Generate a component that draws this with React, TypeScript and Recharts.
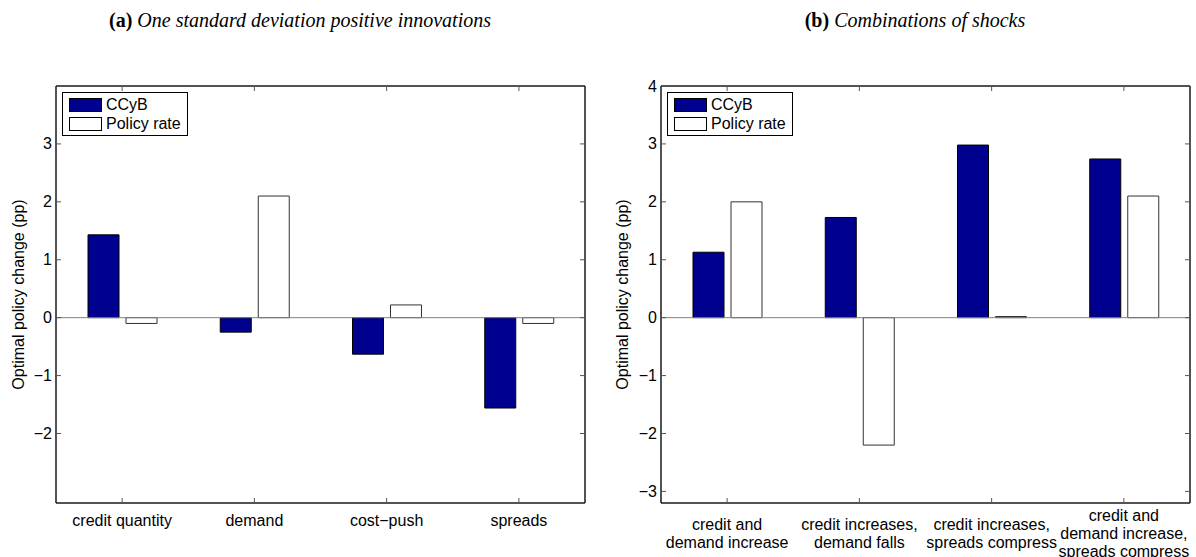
import { BarChart, Bar, XAxis, YAxis, ReferenceLine } from "recharts";

// ── data ──────────────────────────────────────────────────────────────────────
const categoriesA = ["credit quantity", "demand", "cost\u2212push", "spreads"];
const ccybA = [1.43, -0.25, -0.63, -1.56];
const policyA = [-0.1, 2.1, 0.22, -0.1];
const ticksA = [-2, -1, 0, 1, 2, 3];

const categoriesB = [
  "credit and\ndemand increase",
  "credit increases,\ndemand falls",
  "credit increases,\nspreads compress",
  "credit and\ndemand increase,\nspreads compress",
];
const ccybB = [1.13, 1.73, 2.98, 2.74];
const policyB = [2.0, -2.2, 0.02, 2.1];
const ticksB = [-3, -2, -1, 0, 1, 2, 3, 4];

const yDomain: [number, number] = [-3.2, 4];
const seriesNames = ["CCyB", "Policy rate"];

// ── styles ────────────────────────────────────────────────────────────────────
const SANS = "'Liberation Sans', Arial, Helvetica, sans-serif";
const SERIF = "'Liberation Serif', 'Times New Roman', serif";
const CCYB_COLOR = "#00008f";
const AXIS = "#1a1a1a";
const TICK = "#555";
const TICK_LEN = 5;

const fmt = (v: number) => (v < 0 ? `\u2212${Math.abs(v)}` : String(v));

// ── custom ticks (MATLAB style: inward tick marks) ───────────────────────────
function BottomTick(props: any) {
  const { x, y, payload, mid } = props;
  const lines = String(payload.value).split("\n");
  const lh = 17.7;
  const first = y + mid - ((lines.length - 1) / 2) * lh;
  return (
    <g>
      <line x1={x} y1={y} x2={x} y2={y - TICK_LEN} stroke={TICK} strokeWidth={1} />
      <text x={x} y={first} textAnchor="middle" dominantBaseline="central" fontSize={16} fontFamily={SANS} fill="#000">
        {lines.map((l, i) => (
          <tspan key={i} x={x} y={first + i * lh}>{l}</tspan>
        ))}
      </text>
    </g>
  );
}

function TopTick(props: any) {
  const { x, y } = props;
  return <line x1={x} y1={y} x2={x} y2={y + TICK_LEN} stroke={TICK} strokeWidth={1} />;
}

function LeftTick(props: any) {
  const { x, y, payload } = props;
  return (
    <g>
      <line x1={x} y1={y} x2={x + TICK_LEN} y2={y} stroke={TICK} strokeWidth={1} />
      <text x={x - 4} y={y} textAnchor="end" dominantBaseline="central" fontSize={16} fontFamily={SANS} fill="#000">
        {fmt(payload.value)}
      </text>
    </g>
  );
}

function RightTick(props: any) {
  const { x, y } = props;
  return <line x1={x} y1={y} x2={x - TICK_LEN} y2={y} stroke={TICK} strokeWidth={1} />;
}

// ── legend box ────────────────────────────────────────────────────────────────
function LegendBox({ left, top }: { left: number; top: number }) {
  const row = (fill: string, label: string, y: number) => (
    <div style={{ position: "absolute", left: 0, top: y, height: 16, display: "flex", alignItems: "center" }}>
      <div style={{ marginLeft: 6, width: 33, height: 14, background: fill, border: "1px solid #000", boxSizing: "border-box" }} />
      <span style={{ marginLeft: 4, fontFamily: SANS, fontSize: 16, lineHeight: "16px", color: "#000" }}>{label}</span>
    </div>
  );
  return (
    <div style={{ position: "absolute", left, top, width: 126, height: 44, border: "1px solid #000", boxSizing: "border-box", background: "#fff" }}>
      {row(CCYB_COLOR, seriesNames[0], 4)}
      {row("#fff", seriesNames[1], 23)}
    </div>
  );
}

// ── one panel ─────────────────────────────────────────────────────────────────
type PanelProps = {
  left: number;
  width: number;
  marginLeft: number;
  marginRight: number;
  categories: string[];
  ccyb: number[];
  policy: number[];
  ticks: number[];
  labelMid: number;
  labelOffset: number;
};

function Panel(p: PanelProps) {
  const data = p.categories.map((name, i) => ({ name, ccyb: p.ccyb[i], policy: p.policy[i] }));
  const plotLeft = p.marginLeft + 40;
  return (
    <div style={{ position: "absolute", left: p.left, top: 0, width: p.width, height: 557 }}>
      <BarChart
        width={p.width}
        height={557}
        data={data}
        margin={{ top: 81, right: p.marginRight, bottom: 14, left: p.marginLeft }}
        barSize={31}
        barGap={7}
      >
        <ReferenceLine y={0} stroke="#808080" strokeWidth={1} />
        <Bar dataKey="ccyb" name={seriesNames[0]} fill={CCYB_COLOR} stroke="#000" strokeWidth={1} isAnimationActive={false} />
        <Bar dataKey="policy" name={seriesNames[1]} fill="#fff" stroke="#333" strokeWidth={1} isAnimationActive={false} />
        <XAxis
          dataKey="name"
          height={40}
          interval={0}
          tickSize={0}
          tickMargin={0}
          tickLine={false}
          axisLine={{ stroke: AXIS, strokeWidth: 1.5 }}
          tick={(t: any) => <BottomTick {...t} mid={p.labelMid} />}
        />
        <XAxis
          xAxisId="top"
          orientation="top"
          dataKey="name"
          height={5}
          interval={0}
          tickSize={0}
          tickMargin={0}
          tickLine={false}
          axisLine={{ stroke: AXIS, strokeWidth: 1.5 }}
          tick={(t: any) => <TopTick {...t} />}
        />
        <YAxis
          type="number"
          domain={yDomain}
          allowDataOverflow
          ticks={p.ticks}
          interval={0}
          width={40}
          tickSize={0}
          tickMargin={0}
          tickLine={false}
          axisLine={{ stroke: AXIS, strokeWidth: 1.5 }}
          tick={(t: any) => <LeftTick {...t} />}
          label={{
            value: "Optimal policy change (pp)",
            angle: -90,
            position: "insideLeft",
            offset: p.labelOffset,
            style: { textAnchor: "middle", fontSize: 16, fontFamily: SANS, fill: "#000" },
          }}
        />
        <YAxis
          yAxisId="r"
          orientation="right"
          type="number"
          domain={yDomain}
          allowDataOverflow
          ticks={p.ticks}
          interval={0}
          width={5}
          tickSize={0}
          tickMargin={0}
          tickLine={false}
          axisLine={{ stroke: AXIS, strokeWidth: 1.5 }}
          tick={(t: any) => <RightTick {...t} />}
        />
      </BarChart>
      <LegendBox left={plotLeft + 6} top={92} />
    </div>
  );
}

function Title({ center, tag, text }: { center: number; tag: string; text: string }) {
  return (
    <div
      style={{
        position: "absolute",
        left: center - 300,
        top: 8,
        width: 600,
        textAlign: "center",
        fontFamily: SERIF,
        fontSize: 20,
        lineHeight: "24px",
        color: "#000",
        whiteSpace: "nowrap",
      }}
    >
      <span style={{ fontWeight: 700 }}>{tag}</span> <span style={{ fontStyle: "italic" }}>{text}</span>
    </div>
  );
}

export default function App() {
  return (
    <div style={{ position: "absolute", left: 0, top: 0, width: 1196, height: 557, background: "#fff", overflow: "hidden" }}>
      <Title center={300} tag="(a)" text="One standard deviation positive innovations" />
      <Title center={915} tag="(b)" text="Combinations of shocks" />
      <Panel
        left={0}
        width={600}
        marginLeft={16}
        marginRight={10}
        categories={categoriesA}
        ccyb={ccybA}
        policy={policyA}
        ticks={ticksA}
        labelMid={17}
        labelOffset={2}
      />
      <Panel
        left={600}
        width={596}
        marginLeft={21}
        marginRight={1}
        categories={categoriesB}
        ccyb={ccybB}
        policy={policyB}
        ticks={ticksB}
        labelMid={30}
        labelOffset={1}
      />
    </div>
  );
}
